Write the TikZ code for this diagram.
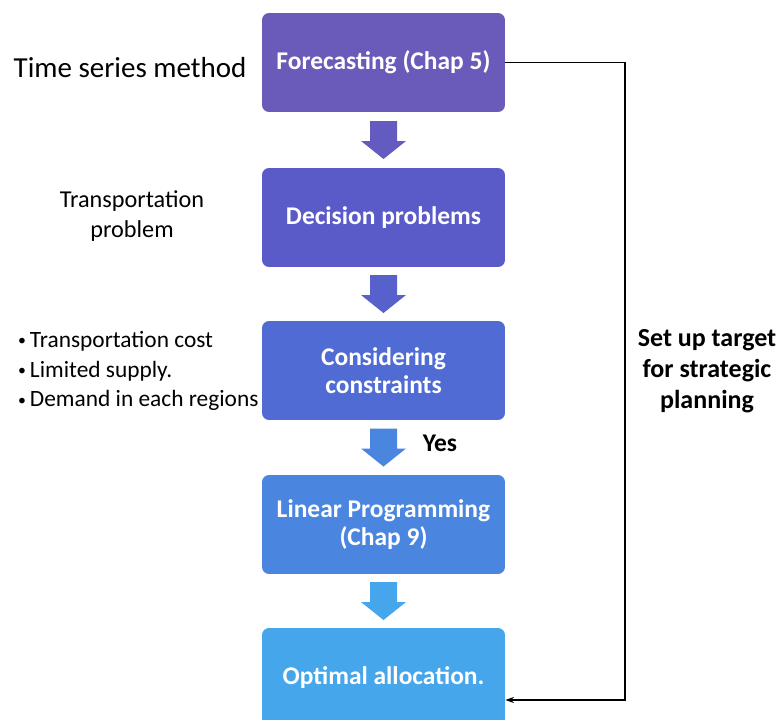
\documentclass[tikz,border=0pt]{standalone}
\usepackage{fontspec}
\setmainfont{Carlito}
\usetikzlibrary{calc,arrows.meta}
\definecolor{stepA}{RGB}{106,91,186}
\definecolor{stepB}{RGB}{90,91,200}
\definecolor{stepC}{RGB}{80,108,212}
\definecolor{stepD}{RGB}{74,134,224}
\definecolor{stepE}{RGB}{70,166,236}
\newcommand{\smallbul}{\raisebox{0.15ex}{\fontsize{9}{9}\selectfont•}\,}
\begin{document}
\begin{tikzpicture}[x=0.02cm,y=-0.02cm]
   \useasboundingbox (0,0) rectangle (779,720);
   \tikzstyle{stage}=[rounded corners=4pt, minimum width=4.86cm, minimum height=1.98cm, text=white, align=center, font=\fontsize{14.5}{16}\selectfont\bfseries]
   \tikzstyle{side}=[font=\fontsize{13.8}{17}\selectfont]
   \foreach \i/\y/\col/\txt in {1/62.5/stepA/{Forecasting (Chap 5)},2/217.5/stepB/{Decision problems},3/370.5/stepC/{Considering\\constraints},4/524.5/stepD/{Linear Programming\\(Chap 9)},5/677.5/stepE/{Optimal allocation.}} {
       \node[stage, fill=\col] (s\i) at (383.5,\y) {\txt};
   }
   % block arrows between the stages
   \foreach \a/\b/\col in {1/2/stepA!60!stepB,2/3/stepB!70!stepC,3/4/stepD,4/5/stepE} {
       \coordinate (m\a) at ($(s\a.south)!0.5!(s\b.north)$);
       \fill[\col] ($(m\a)+(-13.5,-19)$) -- ($(m\a)+(13.5,-19)$) -- ($(m\a)+(13.5,1)$) -- ($(m\a)+(22.5,1)$)
           -- ($(m\a)+(0,19)$) -- ($(m\a)+(-22.5,1)$) -- ($(m\a)+(-13.5,1)$) -- cycle;
   }
   \node[font=\fontsize{14.5}{16}\selectfont\bfseries] (yes) at (440,443) {Yes};
   % notes on the left
   \node (method) at (130,68) {\fontsize{16.5}{18}\selectfont Time series method};
   \node[side, align=center] (transp) at (132,216) {Transportation\\problem};
   \node[side, anchor=west, align=left, font=\fontsize{13.3}{17}\selectfont] (cons) at (12,371) {\smallbul Transportation cost\\\smallbul Limited supply.\\\smallbul Demand in each regions};
   % feedback loop
   \coordinate (corner) at (625,700);
   \draw[-{Stealth[length=5pt,width=3.5pt]}, line width=0.7pt] (s1.east) -| (corner) -- (corner -| s5.east);
   \node[align=center, font=\fontsize{14.8}{17.6}\selectfont\bfseries] (target) at (707,371) {Set up target\\for strategic\\planning};
\end{tikzpicture}
\end{document}
